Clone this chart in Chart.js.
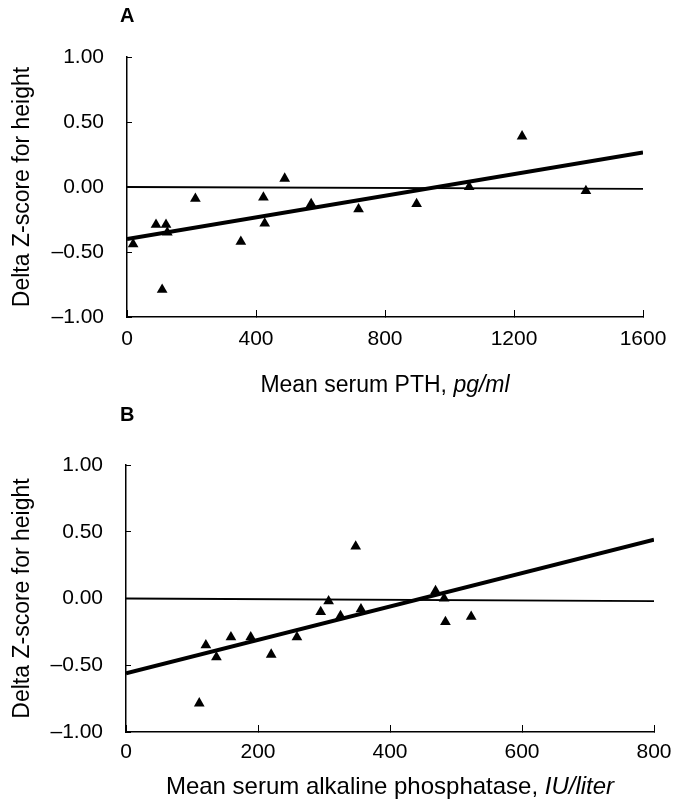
<!DOCTYPE html>
<html>
<head>
<meta charset="utf-8">
<script src="https://cdn.jsdelivr.net/npm/chart.js@4.4.0/dist/chart.umd.min.js"></script>
<style>
body{margin:0;background:#fff;}
#wrap{position:relative;width:676px;height:807px;}
.panel{position:absolute;left:0;}
</style>
</head>
<body>
<div id="wrap">
	<div class="panel" style="top:0"><canvas id="chartA" width="676" height="400"></canvas></div>
	<div class="panel" style="top:400px"><canvas id="chartB" width="676" height="407"></canvas></div>
</div>
<script>
// panel A: mean serum PTH vs delta Z-score
const pthValues = [19, 90, 121, 125, 109, 212, 353, 423, 427, 489, 571, 718, 898, 1061, 1225, 1423];
const pthZ = [-0.44, -0.29, -0.29, -0.35, -0.79, -0.09, -0.42, -0.08, -0.28, 0.065, -0.13, -0.17, -0.13, 0.0, 0.39, -0.03];
const pthFitX = [0, 1600];
const pthFitY = [-0.40, 0.265];
const pthZeroY = [0, -0.015];
const pthTicks = [0, 400, 800, 1200, 1600];

// panel B: mean serum alkaline phosphatase vs delta Z-score
const alpValues = [111, 121, 137, 159, 189, 220, 259, 295, 307, 325, 348, 356, 469, 482, 484, 523];
const alpZ = [-0.785, -0.35, -0.44, -0.29, -0.29, -0.42, -0.29, -0.10, -0.02, -0.13, 0.39, -0.08, 0.056, 0.0, -0.176, -0.136];
const alpFitX = [0, 800];
const alpFitY = [-0.56, 0.44];
const alpZeroY = [0, -0.02];
const alpTicks = [0, 200, 400, 600, 800];

const zTicks = [-1, -0.5, 0, 0.5, 1];

const FONT = '"Liberation Sans", Arial, Helvetica, sans-serif';

function pairs(xs, ys){
	return xs.map(function(x, i){ return {x: x, y: ys[i]}; });
}

const panelText = {
	id: 'panelText',
	afterDraw(chart, args, opts){
		const ctx = chart.ctx;
		const area = chart.chartArea;
		const f = opts.size + 'px ' + FONT;
		ctx.save();
		ctx.fillStyle = '#000';
		ctx.textBaseline = 'alphabetic';
		ctx.textAlign = 'left';
		ctx.font = 'bold 20px ' + FONT;
		ctx.fillText(opts.letter, 120, opts.letterY);
		ctx.font = f;
		const w1 = ctx.measureText(opts.title).width;
		ctx.font = 'italic ' + f;
		const w2 = ctx.measureText(opts.unit).width;
		let x = (area.left + area.right) / 2 - (w1 + w2) / 2;
		ctx.font = f;
		ctx.fillText(opts.title, x, opts.titleY);
		ctx.font = 'italic ' + f;
		ctx.fillText(opts.unit, x + w1, opts.titleY);
		ctx.restore();
	}
};

function makeChart(canvasId, cfg){
	const ctx = document.getElementById(canvasId).getContext('2d');
	return new Chart(ctx, {
		type: 'scatter',
		data: {
			datasets: [{
				label: 'zero',
				data: pairs([cfg.xMin, cfg.xMax], cfg.zeroY),
				showLine: true,
				borderColor: '#000',
				borderWidth: 1.8,
				pointRadius: 0
			}, {
				label: 'fit',
				data: pairs(cfg.fitX, cfg.fitY),
				showLine: true,
				borderColor: '#000',
				borderWidth: 4,
				pointRadius: 0
			}, {
				label: 'patients',
				data: pairs(cfg.xs, cfg.ys),
				pointStyle: 'triangle',
				pointRadius: 6.2,
				pointBackgroundColor: '#000',
				pointBorderColor: '#000',
				pointBorderWidth: 0
			}]
		},
		options: {
			responsive: false,
			animation: false,
			events: [],
			layout: {padding: {top: cfg.top, right: cfg.right, bottom: 0, left: 0}},
			plugins: {
				legend: {display: false},
				tooltip: {enabled: false},
				panelText: cfg.text
			},
			scales: {
				x: {
					type: 'linear',
					min: cfg.xMin,
					max: cfg.xMax,
					afterBuildTicks: function(s){ s.ticks = cfg.xTicks.map(function(v){ return {value: v}; }); },
					afterFit: function(s){ s.height = cfg.xHeight; },
					border: {display: true, color: '#000', width: 1.5},
					grid: {drawOnChartArea: false, drawTicks: true, tickLength: -7, color: '#000', lineWidth: 1},
					ticks: {
						color: '#000',
						padding: 0,
						maxRotation: 0,
						autoSkip: false,
						// tall line height pushes labels down without widening the side padding
						font: {family: FONT, size: 21, lineHeight: cfg.xLine},
						callback: function(v){ return String(v); }
					}
				},
				y: {
					type: 'linear',
					min: -1,
					max: 1,
					afterBuildTicks: function(s){ s.ticks = zTicks.map(function(v){ return {value: v}; }); },
					afterFit: function(s){ s.width = cfg.left; },
					border: {display: true, color: '#000', width: 1.5},
					grid: {drawOnChartArea: false, drawTicks: true, tickLength: -5, color: '#000', lineWidth: 1},
					title: {
						display: true,
						text: 'Delta Z-score for height',
						color: '#000',
						font: {family: FONT, size: 23},
						padding: {top: 9, bottom: 0}
					},
					ticks: {
						color: '#000',
						padding: 28,
						autoSkip: false,
						font: {family: FONT, size: 21},
						callback: function(v){
							const s = Math.abs(v).toFixed(2);
							return v < 0 ? '\u2013' + s : s;
						}
					}
				}
			}
		},
		plugins: [panelText]
	});
}

makeChart('chartA', {
	xs: pthValues, ys: pthZ, fitX: pthFitX, fitY: pthFitY, zeroY: pthZeroY,
	xMin: 0, xMax: 1600, xTicks: pthTicks,
	top: 57, right: 33, left: 127, xHeight: 83, xLine: 2.76,
	text: {letter: 'A', letterY: 22, size: 23, title: 'Mean serum PTH, ', unit: 'pg/ml', titleY: 392}
});

makeChart('chartB', {
	xs: alpValues, ys: alpZ, fitX: alpFitX, fitY: alpFitY, zeroY: alpZeroY,
	xMin: 0, xMax: 800, xTicks: alpTicks,
	top: 65, right: 22, left: 126, xHeight: 75, xLine: 2.63,
	text: {letter: 'B', letterY: 21, size: 24, title: 'Mean serum alkaline phosphatase, ', unit: 'IU/liter', titleY: 394}
});
</script>
</body>
</html>
